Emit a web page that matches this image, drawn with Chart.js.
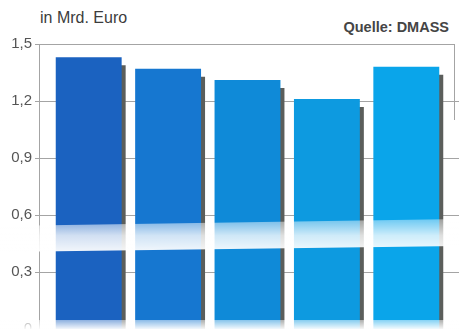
<!DOCTYPE html>
<html>
<head>
<meta charset="utf-8">
<script src="https://cdn.jsdelivr.net/npm/chart.js@4"></script>
<style>
  body { margin: 0; overflow: hidden; background: #fff; width: 459px; height: 329px; position: relative; }
  #unit { position: absolute; left: 40px; top: 9px; font: 16px 'Liberation Sans', Arial, sans-serif; color: #3c3c3c; }
  #source { position: absolute; right: 10px; top: 19px; font: bold 14.5px 'Liberation Sans Narrow', 'Liberation Sans', Arial, sans-serif; color: #454545; }
  canvas { position: absolute; left: 0; top: 0; }
</style>
</head>
<body>
<div id="unit">in Mrd. Euro</div>
<div id="source">Quelle: DMASS</div>
<canvas id="chart" width="459" height="355"></canvas>
<script>
// values, bars left to right
var categories = ['1', '2', '3', '4', '5'];
var values = [1.43, 1.37, 1.31, 1.21, 1.38];
var barColors = ['#1b62c0', '#1677d0', '#0f8ad8', '#0d9ae0', '#0aa5ea'];
var yTicks = [0, 0.3, 0.6, 0.9, 1.2, 1.5];

// gridlines and frame, wider than the bar area
var gridPlugin = {
    id: 'frameGrid',
    beforeDatasetsDraw: function(chart) {
        var ctx = chart.ctx;
        var y = chart.scales.y;
        ctx.save();
        ctx.strokeStyle = '#a4a4a4';
        ctx.lineWidth = 1;
        ctx.beginPath();
        yTicks.forEach(function(v) {
            var py = Math.round(y.getPixelForValue(v)) + 0.5;
            ctx.moveTo(35, py);
            ctx.lineTo(v === 1.5 ? 454 : 459, py);
        });
        ctx.moveTo(39.5, y.getPixelForValue(1.5));
        ctx.lineTo(39.5, 355);
        ctx.moveTo(454.5, y.getPixelForValue(1.5));
        ctx.lineTo(454.5, 120);
        ctx.stroke();
        ctx.restore();
    }
};

// drop shadow behind the bars
var shadowPlugin = {
    id: 'barShadow',
    beforeDatasetsDraw: function(chart) {
        var ctx = chart.ctx;
        ctx.save();
        ctx.shadowColor = '#5b5e5b';
        ctx.shadowOffsetX = 4;
        ctx.shadowOffsetY = 8;
        ctx.shadowBlur = 0;
    },
    afterDatasetsDraw: function(chart) {
        chart.ctx.restore();
    }
};

// white "broken axis" bands
var bandPlugin = {
    id: 'bands',
    afterDraw: function(chart) {
        var ctx = chart.ctx;
        ctx.save();
        var g = ctx.createLinearGradient(0, 219, 0, 252);
        g.addColorStop(0, 'rgba(255,255,255,0.4)');
        g.addColorStop(0.5, 'rgba(255,255,255,0.8)');
        g.addColorStop(1, 'rgba(255,255,255,0.95)');
        ctx.fillStyle = g;
        ctx.beginPath();
        ctx.moveTo(0, 226);
        ctx.lineTo(459, 219);
        ctx.lineTo(459, 246);
        ctx.lineTo(0, 252);
        ctx.closePath();
        ctx.fill();

        var g2 = ctx.createLinearGradient(0, 318, 0, 329);
        g2.addColorStop(0, 'rgba(255,255,255,0.4)');
        g2.addColorStop(1, 'rgba(255,255,255,0.95)');
        ctx.fillStyle = g2;
        ctx.fillRect(0, 320, 459, 40);
        ctx.restore();
    }
};

var ctx = document.getElementById('chart').getContext('2d');
var chart = new Chart(ctx, {
    type: 'bar',
    data: {
        labels: categories,
        datasets: [{
            data: values,
            backgroundColor: barColors,
            borderWidth: 0,
            categoryPercentage: 1,
            barPercentage: 0.83
        }]
    },
    options: {
        responsive: false,
        animation: false,
        layout: { padding: { top: 44, bottom: 10, right: 13, left: 0 } },
        plugins: { legend: { display: false }, tooltip: { enabled: false } },
        scales: {
            x: { display: false },
            y: {
                min: 0,
                max: 1.5,
                afterFit: function(scale) { scale.width = 49; },
                afterBuildTicks: function(scale) {
                    scale.ticks = yTicks.map(function(v) { return { value: v }; });
                },
                grid: { display: false, tickLength: 0 },
                border: { display: false },
                ticks: {
                    padding: 17,
                    color: '#555',
                    font: { family: 'Liberation Sans', size: 15 },
                    callback: function(v) { return v === 0 ? '0' : v.toFixed(1).replace('.', ','); }
                }
            }
        }
    },
    plugins: [gridPlugin, shadowPlugin, bandPlugin]
});
</script>
</body>
</html>
